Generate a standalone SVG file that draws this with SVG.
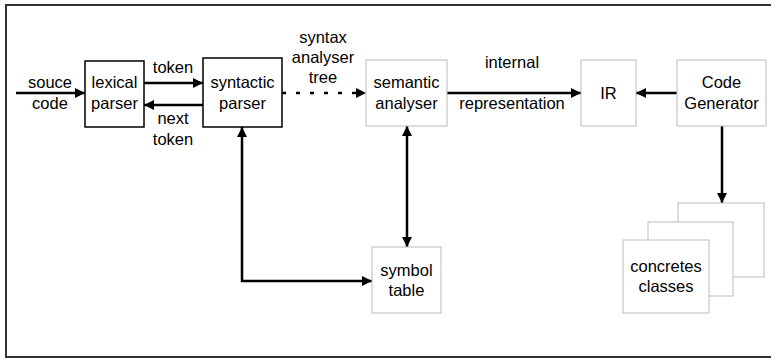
<svg xmlns="http://www.w3.org/2000/svg" width="771" height="359" viewBox="0 0 771 359">
<defs>
<marker id="ah" viewBox="0 0 10 10" refX="10" refY="5" markerWidth="11" markerHeight="10" markerUnits="userSpaceOnUse" orient="auto-start-reverse">
<path d="M0,0 L10,5 L0,10 z" fill="#000"/>
</marker>
<style>
text{font-family:"Liberation Sans",Arial,sans-serif;font-size:16.5px;fill:#000;text-anchor:middle}
.bk{fill:#fff;stroke:#000;stroke-width:1.5}
.gr{fill:#fff;stroke:#bbb;stroke-width:1}
.c{fill:none;stroke:#000;stroke-width:2.5}
</style>
</defs>
<rect x="6" y="5" width="780" height="352" fill="#fff" stroke="#333" stroke-width="2"/>
<g id="connectors">
<line class="c" x1="16" y1="93" x2="85" y2="93" marker-end="url(#ah)"/>
<line class="c" x1="144" y1="83" x2="203" y2="83" marker-end="url(#ah)"/>
<line class="c" x1="203" y1="105" x2="144" y2="105" marker-end="url(#ah)"/>
<line class="c" x1="282" y1="93" x2="366" y2="93" stroke-dasharray="4 10" marker-end="url(#ah)"/>
<line class="c" x1="447" y1="93" x2="581" y2="93" marker-end="url(#ah)"/>
<line class="c" x1="677" y1="93" x2="636" y2="93" marker-end="url(#ah)"/>
<line class="c" x1="722" y1="126" x2="722" y2="203" marker-end="url(#ah)"/>
<polyline class="c" points="242,127 242,281 372,281" marker-start="url(#ah)" marker-end="url(#ah)"/>
<line class="c" x1="407" y1="126" x2="407" y2="247" marker-start="url(#ah)" marker-end="url(#ah)"/>
<text x="50" y="88">souce</text>
<text x="50" y="109">code</text>
<text x="173" y="73">token</text>
<text x="173" y="124">next</text>
<text x="173" y="145">token</text>
<text x="323" y="43">syntax</text>
<text x="323" y="63">analyser</text>
<text x="323" y="83">tree</text>
<text x="512" y="68">internal</text>
<text x="512" y="109">representation</text>
</g>
<g id="lexical">
<rect class="bk" x="85" y="61" width="59" height="66"/>
<text x="114.5" y="88">lexical</text>
<text x="114.5" y="109">parser</text>
</g>
<g id="syntactic">
<rect class="bk" x="203" y="58" width="79" height="69"/>
<text x="242.5" y="88">syntactic</text>
<text x="242.5" y="109">parser</text>
</g>
<g id="semantic">
<rect class="gr" x="366" y="60" width="81" height="66"/>
<text x="406.5" y="88">semantic</text>
<text x="406.5" y="109">analyser</text>
</g>
<g id="ir">
<rect class="gr" x="581" y="60" width="55" height="66"/>
<text x="608.5" y="99">IR</text>
</g>
<g id="codegen">
<rect class="gr" x="677" y="60" width="89" height="66"/>
<text x="721.5" y="88">Code</text>
<text x="721.5" y="109">Generator</text>
</g>
<g id="symbol">
<rect class="gr" x="372" y="247" width="69" height="66"/>
<text x="406.5" y="276">symbol</text>
<text x="406.5" y="296">table</text>
</g>
<g id="concretes">
<rect class="gr" x="678" y="203" width="86" height="74"/>
<rect class="gr" x="648" y="222" width="85" height="74"/>
<rect class="gr" x="623" y="240" width="86" height="73"/>
<text x="666" y="272">concretes</text>
<text x="666" y="292">classes</text>
</g>
</svg>
